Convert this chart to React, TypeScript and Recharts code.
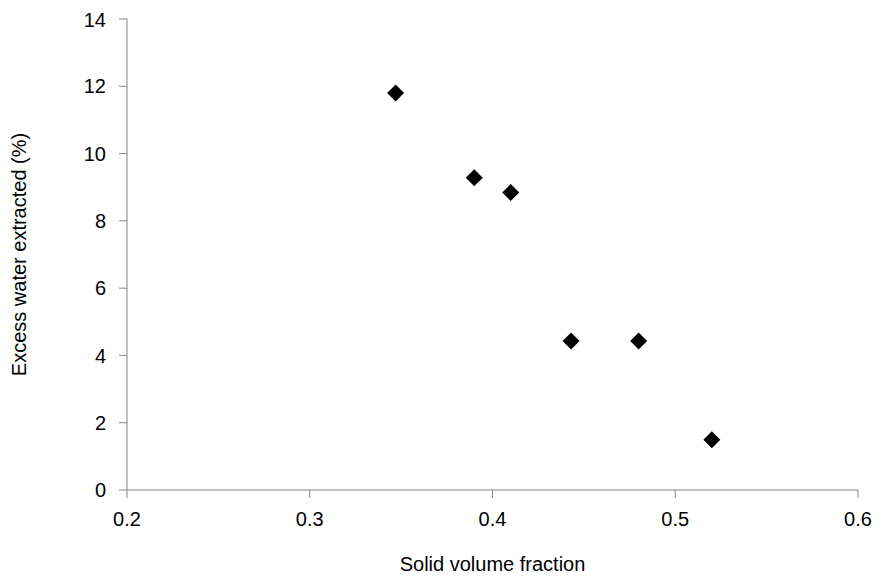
import React from "react";
import { ScatterChart, Scatter, XAxis, YAxis, Label } from "recharts";

const fractions = [0.347, 0.39, 0.41, 0.443, 0.48, 0.52];
const waterExtracted = [11.8, 9.28, 8.84, 4.43, 4.43, 1.49];
const xTicks = [0.2, 0.3, 0.4, 0.5, 0.6];
const yTicks = [0, 2, 4, 6, 8, 10, 12, 14];

const data = fractions.map((x, i) => ({ x, y: waterExtracted[i] }));

const Diamond = (props: any) => {
  const { cx, cy } = props;
  const r = 8.5;
  return <polygon points={`${cx},${cy - r} ${cx + r},${cy} ${cx},${cy + r} ${cx - r},${cy}`} fill="#000" />;
};

const axisColor = "#868686";
const tickStyle = { fill: "#000", fontSize: 20, fontFamily: "Liberation Sans, Arial, sans-serif" };

export default function App() {
  return (
    <div style={{ width: 873, height: 571, fontFamily: "Liberation Sans, Arial, sans-serif" }}>
      <ScatterChart width={873} height={571} margin={{ top: 11, right: 23, bottom: 49, left: 59 }}>
        <XAxis
          type="number"
          dataKey="x"
          domain={[0.2, 0.6]}
          ticks={xTicks}
          tickFormatter={(v: number) => String(v)}
          stroke={axisColor}
          tickSize={8}
          tickMargin={14}
          tick={tickStyle}
          height={40}
        >
          <Label value="Solid volume fraction" position="bottom" offset={27} style={{ ...tickStyle }} />
        </XAxis>
        <YAxis
          type="number"
          dataKey="y"
          domain={[0, 14]}
          ticks={yTicks}
          stroke={axisColor}
          tickSize={8}
          tickMargin={13}
          tick={tickStyle}
          width={60}
        >
          <Label value="Excess water extracted (%)" angle={-90} position="insideLeft" offset={-48} style={{ ...tickStyle, textAnchor: "middle" }} />
        </YAxis>
        <Scatter data={data} shape={<Diamond />} isAnimationActive={false} />
      </ScatterChart>
    </div>
  );
}
